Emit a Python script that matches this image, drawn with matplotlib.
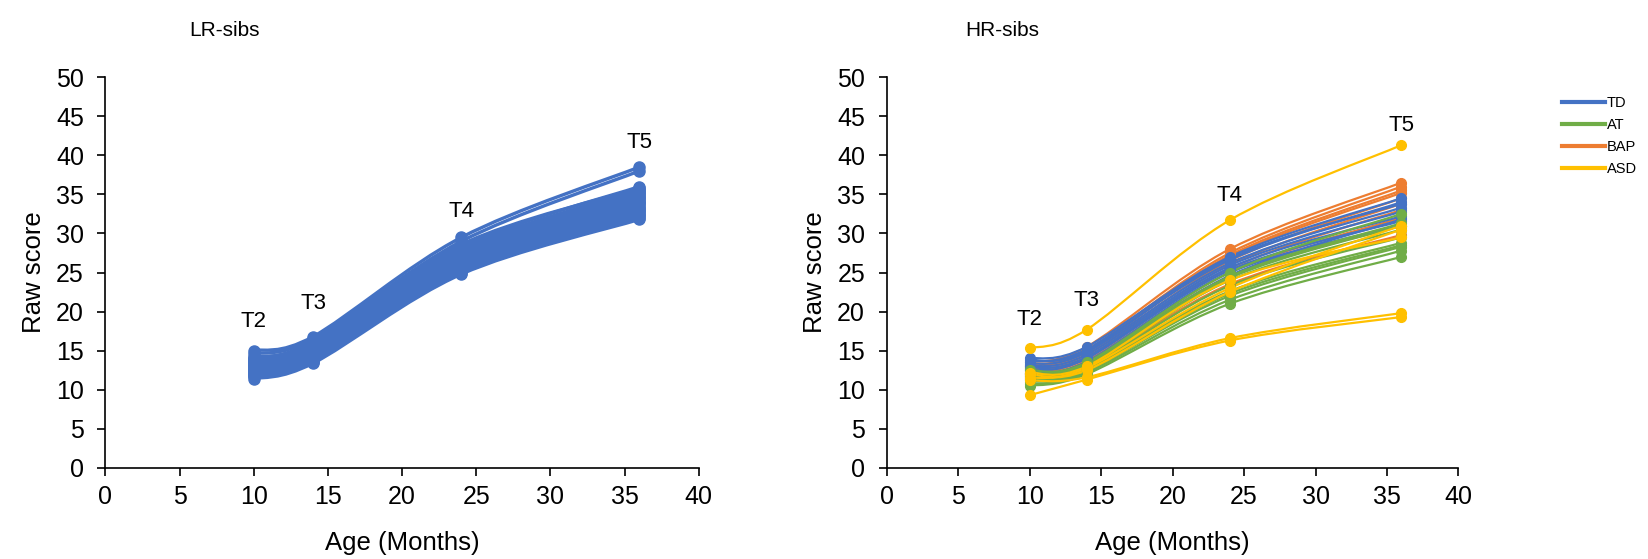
import numpy as np
import matplotlib.pyplot as plt
from matplotlib.path import Path
from matplotlib.patches import PathPatch

plt.rcParams['font.family'] = ['Liberation Sans', 'DejaVu Sans']

# ages of the four visits
ages = [10, 14, 24, 36]
visits = ['T2', 'T3', 'T4', 'T5']

# LR-sibs, one value per child per visit
lr_t2 = [15.0, 14.6, 14.2, 13.9, 13.7, 13.5, 13.3, 13.1, 13.0, 12.8, 12.7, 12.5, 12.4, 12.2,
         12.1, 12.0, 11.9, 11.7, 11.4, 13.6, 12.9, 12.3, 14.0, 12.6, 13.2, 11.8, 12.4, 13.8]
lr_t3 = [16.8, 16.5, 16.0, 15.8, 15.6, 15.4, 15.2, 15.0, 14.9, 14.7, 14.6, 14.4, 14.3, 14.1,
         14.0, 13.9, 13.8, 13.6, 13.4, 15.3, 14.8, 14.2, 16.2, 14.5, 15.1, 13.7, 14.3, 15.7]
lr_t4 = [29.5, 29.0, 28.3, 28.0, 27.8, 27.5, 27.2, 27.0, 26.8, 26.6, 26.4, 26.2, 26.0, 25.8,
         25.6, 25.4, 25.2, 25.0, 24.8, 27.4, 26.9, 26.1, 28.6, 26.5, 27.1, 25.3, 25.9, 27.9]
lr_t5 = [38.5, 38.0, 36.0, 35.5, 35.2, 35.0, 34.8, 34.5, 34.2, 34.0, 33.8, 33.5, 33.3, 33.0,
         32.8, 32.5, 32.3, 32.0, 31.8, 35.3, 34.6, 33.2, 35.8, 33.9, 34.4, 32.2, 32.9, 35.6]

# HR-sibs by outcome group
td_t2 = [14.0, 13.6, 13.3, 13.0, 12.8, 12.5, 12.2, 13.8, 11.8]
td_t3 = [15.5, 15.2, 14.8, 14.5, 14.2, 14.0, 13.6, 15.0, 13.2]
td_t4 = [27.0, 26.6, 26.2, 25.9, 25.6, 25.3, 25.0, 26.8, 24.6]
td_t5 = [34.5, 34.0, 33.3, 32.8, 32.2, 31.6, 31.0, 33.8, 31.8]

at_t2 = [12.5, 12.2, 11.9, 11.6, 11.3, 11.0, 10.7, 10.5, 12.0, 11.4]
at_t3 = [13.5, 13.3, 13.0, 12.8, 12.6, 12.4, 12.2, 12.0, 13.1, 12.5]
at_t4 = [25.0, 24.5, 24.0, 23.3, 22.6, 22.0, 21.5, 21.0, 24.3, 22.3]
at_t5 = [32.5, 31.3, 30.5, 29.5, 28.8, 28.3, 27.8, 27.0, 31.0, 28.5]

bap_t2 = [13.5, 13.2, 12.9, 12.6, 12.4, 12.2, 12.0, 11.8, 11.5, 13.0]
bap_t3 = [15.5, 15.1, 14.8, 14.5, 14.2, 14.0, 13.7, 13.4, 13.0, 14.9]
bap_t4 = [28.0, 27.5, 27.0, 26.5, 26.0, 25.5, 25.0, 24.5, 23.5, 27.2]
bap_t5 = [36.5, 36.0, 35.2, 34.5, 33.8, 33.0, 32.0, 31.0, 29.8, 35.5]

asd_t2 = [15.3, 9.3, 11.2, 12.0, 11.5, 12.2]
asd_t3 = [17.7, 11.3, 11.6, 12.5, 12.8, 13.0]
asd_t4 = [31.7, 16.3, 16.6, 22.5, 23.0, 24.0]
asd_t5 = [41.3, 19.3, 19.8, 30.5, 31.0, 29.5]

groups = ['TD', 'AT', 'BAP', 'ASD']
draw_order = ['BAP', 'TD', 'AT', 'ASD']
colors = {'TD': '#4472C4', 'AT': '#70AD47', 'BAP': '#ED7D31', 'ASD': '#FFC000'}
hr = {
    'TD': [td_t2, td_t3, td_t4, td_t5],
    'AT': [at_t2, at_t3, at_t4, at_t5],
    'BAP': [bap_t2, bap_t3, bap_t4, bap_t5],
    'ASD': [asd_t2, asd_t3, asd_t4, asd_t5],
}


def smooth_line(ax, xs, ys, color, lw, ms):
    # excel style smoothed line: catmull-rom segments as cubic bezier
    pts = np.column_stack([xs, ys]).astype(float)
    n = len(pts)
    verts = [pts[0]]
    codes = [Path.MOVETO]
    for i in range(n - 1):
        p0 = pts[i - 1] if i > 0 else pts[i]
        p1 = pts[i]
        p2 = pts[i + 1]
        p3 = pts[i + 2] if i + 2 < n else pts[i + 1]
        c1 = p1 + (p2 - p0) / 6.0
        c2 = p2 - (p3 - p1) / 6.0
        verts += [c1, c2, p2]
        codes += [Path.CURVE4] * 3
    ax.add_patch(PathPatch(Path(verts, codes), fill=False, edgecolor=color, lw=lw,
                           capstyle='round'))
    ax.plot(xs, ys, 'o', color=color, ms=ms, zorder=3)


def style_axes(ax):
    ax.set_xlim(0, 40)
    ax.set_ylim(0, 50)
    ax.set_xticks(range(0, 41, 5))
    ax.set_yticks(range(0, 51, 5))
    ax.spines['top'].set_visible(False)
    ax.spines['right'].set_visible(False)
    ax.spines['left'].set_linewidth(1.2)
    ax.spines['bottom'].set_linewidth(1.2)
    ax.tick_params(labelsize=18, length=5.5, width=1.2)
    ax.tick_params(axis='x', pad=7)
    ax.tick_params(axis='y', pad=10)
    ax.set_xlabel('Age (Months)', fontsize=18.5, labelpad=16)
    ax.set_ylabel('Raw score', fontsize=18.5, labelpad=7)


fig = plt.figure(figsize=(16.48, 5.59), dpi=100)
ax1 = fig.add_axes([0.064, 0.163, 0.36, 0.699])
ax2 = fig.add_axes([0.538, 0.163, 0.347, 0.699])

# LR-sibs panel
lr = [lr_t2, lr_t3, lr_t4, lr_t5]
for k in range(len(lr_t2)):
    smooth_line(ax1, ages, [v[k] for v in lr], '#4472C4', 2.4, 8)
style_axes(ax1)
lr_lab_y = [18.7, 21.0, 32.8, 41.6]
for a, t, y in zip(ages, visits, lr_lab_y):
    ax1.text(a, y, t, ha='center', va='center', fontsize=16)

# HR-sibs panel
for g in draw_order:
    vals = hr[g]
    for k in range(len(vals[0])):
        smooth_line(ax2, ages, [v[k] for v in vals], colors[g], 1.6, 7)
style_axes(ax2)
hr_lab_y = [19.0, 21.4, 34.8, 43.8]
for a, t, y in zip(ages, visits, hr_lab_y):
    ax2.text(a, y, t, ha='center', va='center', fontsize=16)

fig.text(0.136, 0.945, 'LR-sibs', ha='center', va='center', fontsize=15)
fig.text(0.608, 0.945, 'HR-sibs', ha='center', va='center', fontsize=15)

handles = [plt.Line2D([], [], color=colors[g], lw=3) for g in groups]
fig.legend(handles, groups, loc='upper left', bbox_to_anchor=(0.944, 0.838),
           frameon=False, fontsize=10.5, handlelength=3.0, handletextpad=0.1,
           labelspacing=0.55, borderaxespad=0)

fig.savefig('out.png', dpi=100)
